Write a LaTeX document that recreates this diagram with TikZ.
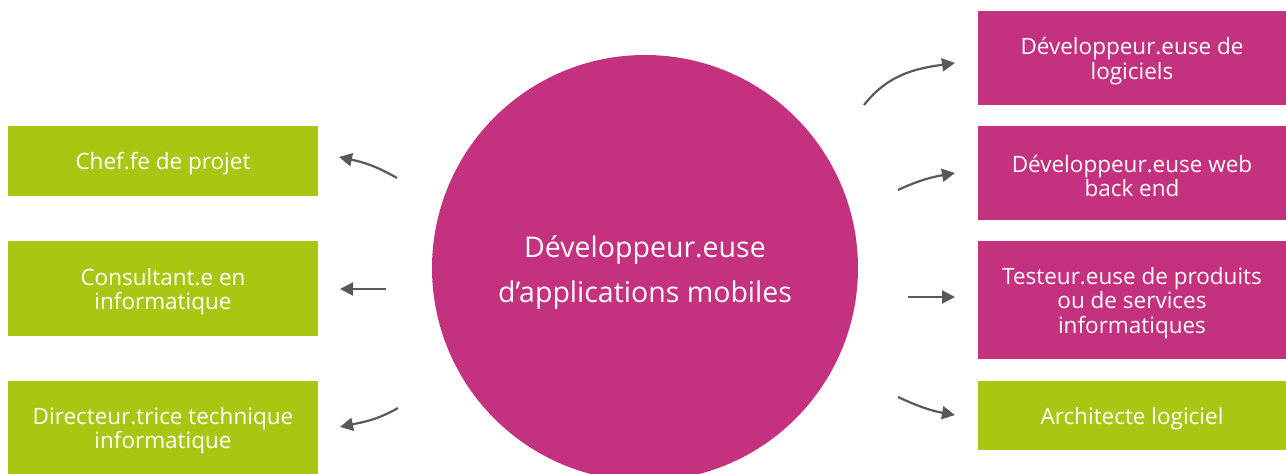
\documentclass[tikz,border=0pt]{standalone}
\usepackage{fontspec}
\setmainfont{Open Sans}
\usetikzlibrary{arrows.meta}
\definecolor{lime}{RGB}{169,198,19}
\definecolor{mag}{RGB}{195,49,127}
\definecolor{arr}{RGB}{89,89,89}
\tikzset{
  boxtext/.style={inner sep=0pt, text=white, align=center,
    font=\fontsize{22.5}{24.5}\selectfont, yshift=-3pt},
  box/.style={rectangle, inner sep=0pt, minimum width=#1},
  gbox/.style={box=310pt, fill=lime},
  mbox/.style={box=308pt, fill=mag},
  link/.style={draw=arr, line width=2.2pt, -{Triangle[length=13pt,width=13pt]}},
}
\begin{document}
\begin{tikzpicture}[x=1pt,y=1pt]
\useasboundingbox (0,0) rectangle (1286,474);
\clip (0,0) rectangle (1286,474);
\node[circle, fill=mag, minimum size=426pt, inner sep=0pt] (hub) at (645,206) {};
\node[text=white, align=center, font=\fontsize{28.5}{45}\selectfont] (hubtext) at (645,201) {Développeur.euse\\d’applications mobiles};
% left boxes
\node[gbox, minimum height=70pt, label={[boxtext]center:Chef.fe de projet}] (chef) at (163,313) {};
\node[gbox, minimum height=95pt, label={[boxtext]center:Consultant.e en\\informatique}] (cons) at (163,185.5) {};
\node[gbox, minimum height=93pt, label={[boxtext]center:Directeur.trice technique\\informatique}] (dir) at (163,46.5) {};
% right boxes
\node[mbox, minimum height=94pt, label={[boxtext]center:Développeur.euse de\\logiciels}] (devlog) at (1132,416) {};
\node[mbox, minimum height=94pt, label={[boxtext]center:Développeur.euse web\\back end}] (devweb) at (1132,301) {};
\node[mbox, minimum height=118pt, label={[boxtext]center:Testeur.euse de produits\\ou de services\\informatiques}] (test) at (1132,174) {};
\node[gbox, minimum height=69pt, minimum width=308pt, label={[boxtext]center:Architecte logiciel}] (arch) at (1132,58.5) {};
% arrow end points
\coordinate (a1s) at (397,296); \coordinate (a1e) at (339,317);
\coordinate (a2s) at (386,185); \coordinate (a2e) at (340,185);
\coordinate (a3s) at (398,66);  \coordinate (a3e) at (340,47);
\coordinate (b1s) at (864,369); \coordinate (b1e) at (955,411);
\coordinate (b2s) at (898,284); \coordinate (b2e) at (955,301);
\coordinate (b3s) at (908,177); \coordinate (b3e) at (955,177);
\coordinate (b4s) at (898,77);  \coordinate (b4e) at (955,59);
\draw[link] (a1s) to[out=150, in=-12] (a1e);
\draw[link] (a2s) -- (a2e);
\draw[link] (a3s) to[out=210, in=12] (a3e);
\draw[link] (b1s) to[out=52, in=188] (b1e);
\draw[link] (b2s) to[out=25, in=190] (b2e);
\draw[link] (b3s) -- (b3e);
\draw[link] (b4s) to[out=-25, in=170] (b4e);
\end{tikzpicture}
\end{document}
